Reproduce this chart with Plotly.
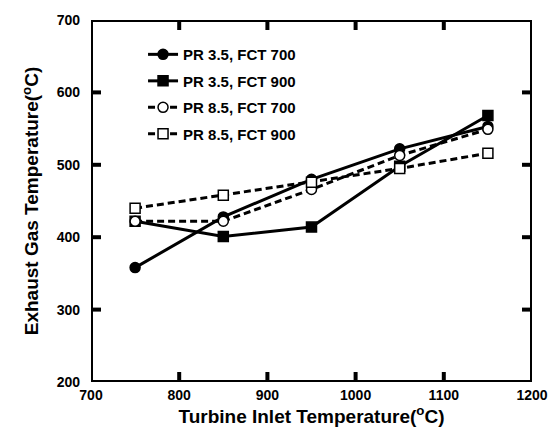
import plotly.graph_objects as go

tit = [750, 850, 950, 1050, 1150]
pr35_fct700 = [358, 428, 480, 522, 553]
pr35_fct900 = [422, 401, 414, 498, 568]
pr85_fct700 = [422, 422, 466, 513, 549]
pr85_fct900 = [440, 458, 476, 495, 516]
x_ticks = [700, 800, 900, 1000, 1100, 1200]
y_ticks = [200, 300, 400, 500, 600, 700]

names = ["PR 3.5, FCT 700", "PR 3.5, FCT 900", "PR 8.5, FCT 700", "PR 8.5, FCT 900"]
series = [pr35_fct700, pr35_fct900, pr85_fct700, pr85_fct900]
symbols = ["circle", "square", "circle", "square"]
filled = [True, True, False, False]
dashes = ["solid", "solid", "7px,4px", "7px,4px"]

W, H = 558, 436
M = dict(l=83, r=34, t=12, b=62)
plot_w = W - M["l"] - M["r"]
plot_h = H - M["t"] - M["b"]
x0, x1 = x_ticks[0], x_ticks[-1]
y0, y1 = y_ticks[0], y_ticks[-1]
tlx = 10 * (x1 - x0) / plot_w   # 10 px tick length in x units
tly = 10 * (y1 - y0) / plot_h   # 10 px tick length in y units

fig = go.Figure()

# frame (box) drawn through the axes' own scales
fig.add_trace(go.Scatter(x=[x0, x1, x1, x0, x0], y=[y0, y0, y1, y1, y0], mode="lines",
                         line=dict(color="black", width=4), cliponaxis=False,
                         showlegend=False, hoverinfo="skip"))
# inward ticks on all four sides
tx, ty = [], []
for t in x_ticks[1:-1]:
    tx += [t, t, None, t, t, None]
    ty += [y0, y0 + tly, None, y1, y1 - tly, None]
for t in y_ticks[1:-1]:
    tx += [x0, x0 + tlx, None, x1, x1 - tlx, None]
    ty += [t, t, None, t, t, None]
fig.add_trace(go.Scatter(x=tx, y=ty, mode="lines", line=dict(color="black", width=4),
                         cliponaxis=False, showlegend=False, hoverinfo="skip"))

for i in range(4):
    fig.add_trace(go.Scatter(
        x=tit, y=series[i], name=names[i], mode="lines+markers",
        legendgroup=f"g{i}",
        line=dict(color="black", width=3, dash=dashes[i]),
        marker=dict(symbol=symbols[i], size=10,
                    color="black" if filled[i] else "white",
                    line=dict(color="black", width=1.5)),
    ))

font = "Arial"

def axis(rng, ticks, title, standoff, lblstand):
    return dict(
        range=rng, tickmode="array", tickvals=ticks,
        showline=False, ticks="", showgrid=False, zeroline=False,
        ticklabelstandoff=lblstand,
        tickfont=dict(family=font, size=14, color="black", weight="bold"),
        title=dict(text=title, standoff=standoff,
                   font=dict(family=font, size=19, color="black", weight="bold")),
    )

fig.update_layout(
    width=W, height=H,
    margin=M,
    paper_bgcolor="white", plot_bgcolor="white",
    template="none",
    font=dict(family=font, color="black", weight="bold"),
    showlegend=True,
    xaxis=axis([x0, x1], x_ticks, "Turbine Inlet Temperature(<sup>o</sup>C)", 0, 3),
    yaxis=axis([y0, y1], y_ticks, "Exhaust Gas Temperature(<sup>o</sup>C)", 12, 10),
    legend=dict(x=0.118, y=0.95, xanchor="left", yanchor="top",
                bgcolor="rgba(0,0,0,0)", tracegroupgap=4,
                font=dict(family=font, size=15, color="black", weight="bold")),
)
fig.write_html("out.html")
